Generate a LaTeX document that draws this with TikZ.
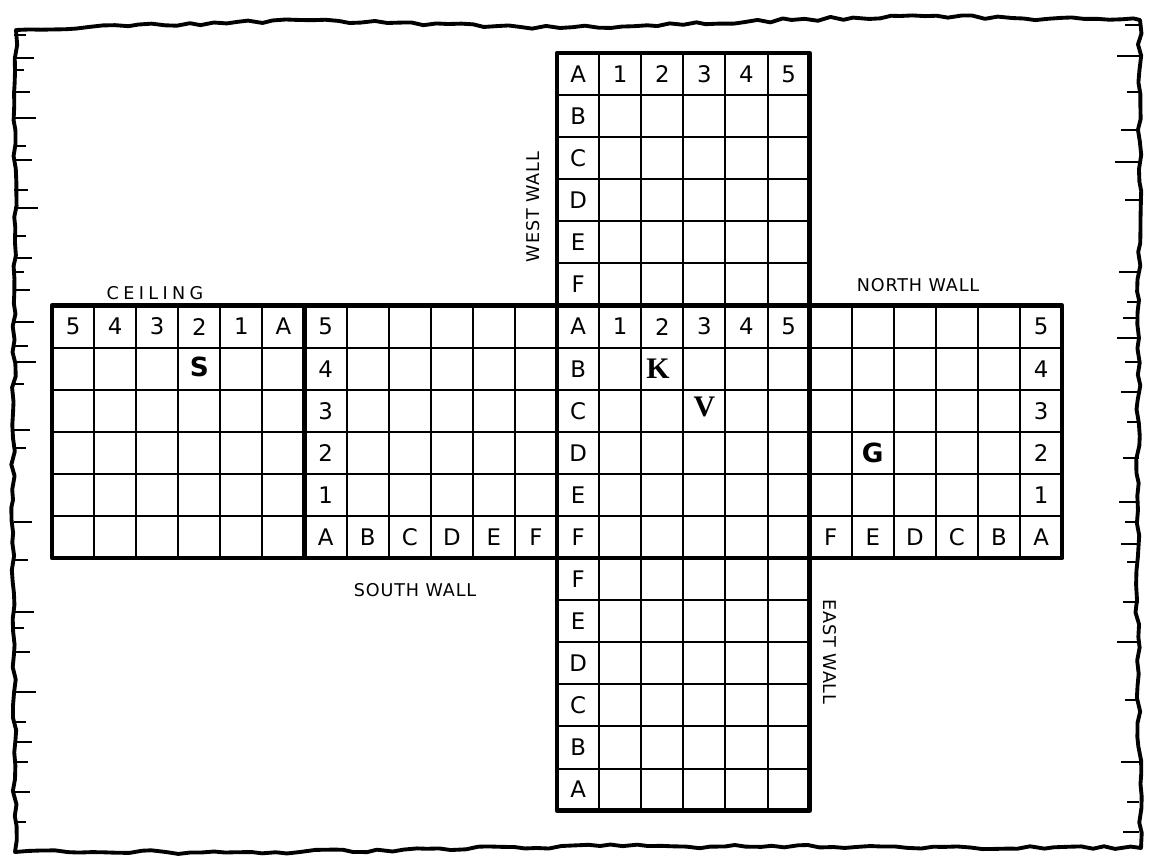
\documentclass[tikz,border=0pt]{standalone}
\usepackage{fontspec}
\setmainfont{DejaVu Sans}
\newfontfamily\piecefont{Liberation Serif}
\usetikzlibrary{decorations.pathmorphing}

\begin{document}
\begin{tikzpicture}[
  x=0.02cm, y=-0.02cm,
  face/.style={line width=2.5pt, line join=round},
  cell/.style={line width=1.1pt},
  lbl/.style={font=\fontsize{13}{15}\selectfont, inner sep=0pt},
  piece/.style={font=\fontsize{17}{19}\selectfont\piecefont\bfseries, inner sep=0pt},
  blob/.style={font=\fontsize{15}{17}\selectfont\bfseries, inner sep=0pt},
  title/.style={font=\fontsize{10}{12}\selectfont\addfontfeature{LetterSpace=5},
                inner sep=0pt},
  parchment/.style={line width=2.2pt, line join=round, decorate,
                    decoration={random steps, segment length=7pt, amplitude=1.1pt}},
  fray/.style={line width=1pt},
]

\useasboundingbox (0,0) rectangle (1149,859);
\pgfmathsetseed{11}

% torn paper edge
\draw[parchment] (16,30) -- (300,20) -- (560,28) -- (900,16) -- (1140,20)
  -- (1139,300) -- (1137,600) -- (1141,848) -- (600,846) -- (300,852)
  -- (15,852) -- (13,500) -- cycle;
\foreach \y/\l in {35/12,58/20,70/10,92/16,118/22,146/12,160/18,190/14,
                   208/24,236/12,258/18,272/10,290/16,322/20,346/14,362/22,
                   384/10,430/16,448/12,522/18,560/14,612/20,628/10,652/16,
                   692/22,722/12,742/18,762/14,792/16,822/12}
  \draw[fray] (14,\y) -- ++(\l,0);
\foreach \y/\l in {25/14,56/22,92/12,130/18,162/24,200/14,272/20,302/12,
                   318/16,338/22,362/14,392/18,422/12,458/16,502/20,522/14,
                   544/18,562/12,602/16,642/22,700/14,762/18,802/12,832/16}
  \draw[fray] (1139,\y) -- ++(-\l,0);

% the six faces, one unit = one cell
\begin{scope}[xshift=1.04cm, yshift=-1.06cm, x=0.842cm, y=-0.842cm]
  \foreach \fx/\fy in {12/0, 0/6, 6/6, 12/6, 18/6, 12/12} {
    \foreach \k in {1,...,5} {
      \draw[cell] (\fx+\k,\fy) -- ++(0,6);
      \draw[cell] (\fx,\fy+\k) -- ++(6,0);
    }
    \draw[face] (\fx,\fy) rectangle ++(6,6);
  }

  % west wall
  \foreach \t [count=\i from 0] in {A,1,2,3,4,5}
    \node[lbl] (w-top-\i) at (12.5+\i,0.5) {\t};
  \foreach \t [count=\j from 1] in {B,C,D,E,F}
    \node[lbl] (w-side-\j) at (12.5,\j+0.5) {\t};

  % floor
  \foreach \t [count=\i from 0] in {A,1,2,3,4,5}
    \node[lbl] (f-top-\i) at (12.5+\i,6.5) {\t};
  \foreach \t [count=\j from 1] in {B,C,D,E,F}
    \node[lbl] (f-side-\j) at (12.5,6.5+\j) {\t};
  \node[piece] (k) at (14.4,7.5) {K};
  \node[piece] (v) at (15.5,8.4) {V};

  % ceiling
  \foreach \t [count=\i from 0] in {5,4,3,2,1,A}
    \node[lbl] (c-top-\i) at (0.5+\i,6.5) {\t};
  \node[blob] (s) at (3.5,7.45) {S};

  % south wall
  \foreach \t [count=\j from 0] in {5,4,3,2,1}
    \node[lbl] (s-side-\j) at (6.5,6.5+\j) {\t};
  \foreach \t [count=\i from 0] in {A,B,C,D,E,F}
    \node[lbl] (s-bot-\i) at (6.5+\i,11.5) {\t};

  % north wall
  \foreach \t [count=\j from 0] in {5,4,3,2,1}
    \node[lbl] (n-side-\j) at (23.5,6.5+\j) {\t};
  \foreach \t [count=\i from 0] in {F,E,D,C,B,A}
    \node[lbl] (n-bot-\i) at (18.5+\i,11.5) {\t};
  \node[blob] (g) at (19.5,9.5) {G};

  % east wall
  \foreach \t [count=\j from 0] in {F,E,D,C,B,A}
    \node[lbl] (e-side-\j) at (12.5,12.5+\j) {\t};
\end{scope}

\node[title] (t-ceil)  at (155,293) {\addfontfeature{LetterSpace=25}CEILING};
\node[title] (t-south) at (415,590) {SOUTH WALL};
\node[title] (t-north) at (918,285) {NORTH WALL};
\node[title, rotate=90]  (t-west) at (533,207) {WEST WALL};
\node[title, rotate=-90] (t-east) at (830,652) {EAST WALL};

\end{tikzpicture}
\end{document}
